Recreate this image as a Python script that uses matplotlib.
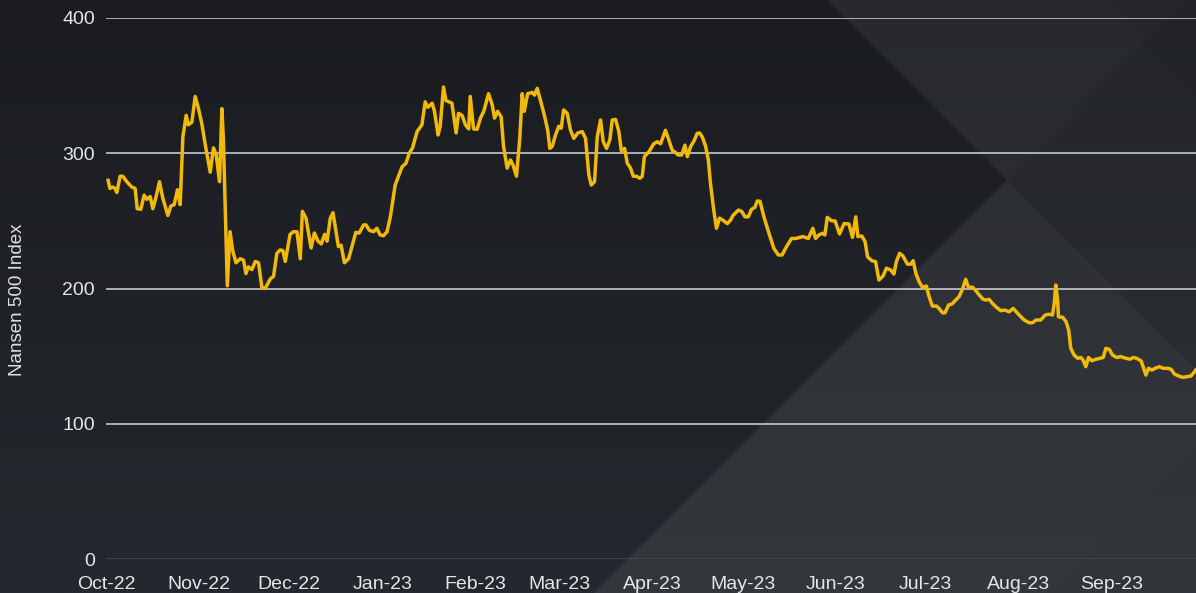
import numpy as np
import pandas as pd
import matplotlib
matplotlib.use("Agg")
from matplotlib import pyplot as plt
from matplotlib.patches import Polygon

plt.rcParams["font.family"] = ["Liberation Sans", "DejaVu Sans"]

# days after 2022-10-01 and index values
days = [
    0.7, 1.3, 2.2, 3.0, 3.6, 4.7, 5.6, 6.9, 8.6, 9.7, 10.4, 11.6, 12.7, 13.6,
    14.7, 15.6, 16.7, 17.8, 18.9, 20.6, 21.6, 22.7, 23.8, 24.7, 25.6, 26.7,
    27.4, 28.6, 29.7, 30.8, 31.9, 33.0, 34.7, 35.8, 36.7, 37.8, 38.6, 39.1,
    40.4, 41.3, 42.2, 43.3, 44.7, 45.8, 46.6, 47.4, 48.6, 49.7, 50.8, 51.9,
    53.0, 54.7, 55.8, 56.9, 58.0, 58.9, 59.7, 61.3, 62.4, 63.6, 64.7, 65.4,
    66.6, 68.3, 69.4, 70.6, 71.7, 72.8, 73.6, 74.7, 75.6, 77.4, 78.3, 79.4,
    80.8, 83.2, 84.3, 85.8, 86.6, 87.7, 89.1, 90.2, 91.3, 92.4, 93.6, 94.7,
    96.3, 97.4, 98.6, 99.9, 101.0, 102.1, 103.6, 105.2, 106.3, 107.2, 108.6,
    109.4, 110.6, 111.3, 112.4, 113.2, 115.2, 116.6, 117.4, 118.6, 119.7,
    120.8, 121.3, 122.4, 123.6, 124.7, 125.8, 127.4, 128.6, 129.4, 130.4,
    131.6, 132.4, 133.6, 134.7, 135.6, 136.7, 137.8, 138.6, 139.3, 140.4,
    141.9, 142.7, 143.6, 144.7, 146.0, 147.1, 147.8, 148.6, 149.7, 150.8,
    151.6, 152.4, 153.6, 154.7, 155.8, 157.1, 158.6, 159.7, 160.8, 161.6,
    162.7, 163.6, 164.7, 165.6, 166.7, 167.8, 168.6, 169.7, 170.8, 171.6,
    172.7, 173.6, 174.7, 175.6, 176.7, 177.8, 178.6, 179.3, 180.8, 182.4,
    183.6, 184.7, 186.3, 187.4, 188.6, 189.4, 190.6, 191.7, 192.8, 193.6,
    194.7, 195.8, 196.9, 197.7, 198.6, 199.7, 200.6, 201.3, 202.4, 203.3,
    204.3, 205.4, 206.9, 208.0, 208.8, 210.6, 211.7, 212.8, 213.9, 215.0,
    216.1, 216.9, 217.8, 219.1, 220.8, 222.4, 223.9, 225.2, 226.3, 228.3,
    229.7, 231.0, 232.1, 233.9, 235.4, 236.3, 237.4, 238.6, 239.4, 240.2,
    241.7, 242.8, 244.3, 245.8, 247.4, 248.6, 249.7, 250.4, 251.7, 252.8,
    253.6, 255.0, 256.3, 257.4, 258.8, 259.9, 261.3, 262.4, 263.2, 264.3,
    265.4, 266.9, 268.0, 268.8, 269.7, 270.8, 271.9, 273.2, 274.1, 275.2,
    276.6, 277.4, 278.6, 279.4, 280.6, 281.7, 283.0, 284.1, 285.2, 286.3,
    287.2, 288.6, 289.7, 290.8, 292.1, 293.0, 294.1, 295.2, 296.6, 298.0,
    299.4, 300.8, 302.1, 304.1, 305.8, 307.4, 308.6, 309.7, 311.3, 312.8,
    314.1, 315.2, 315.8, 316.3, 316.9, 317.2, 318.6, 319.7, 320.6, 321.3,
    322.4, 323.6, 324.7, 325.4, 326.3, 327.2, 328.3, 329.7, 331.0, 332.1,
    333.0, 334.1, 335.2, 336.6, 338.0, 339.7, 341.0, 342.1, 343.2, 344.7,
    345.4, 346.3, 347.2, 348.3, 349.4, 350.8, 352.1, 353.6, 354.7, 355.8,
    357.2, 358.6, 359.9, 361.3, 362.1, 362.9,
]
index_values = [
    280, 274, 275, 274, 271, 283, 283, 279, 275, 274, 259, 258.6, 269, 266,
    268, 259, 268, 279, 267, 254, 261, 262, 273, 262, 312, 328,
    321, 323, 342, 333, 322, 307, 286, 304, 299, 279, 333, 310,
    202, 242, 228, 219, 222, 221, 211, 216, 214, 220, 219, 201,
    200, 207, 209, 226, 228.5, 228, 220, 240, 242, 242, 222, 257,
    252, 230, 241, 235, 233, 240, 235, 252, 256, 231, 232, 219,
    222, 241.5, 241, 247, 247, 243, 242, 244.5, 239.6, 239, 242, 253,
    276.5, 283, 290, 292.6, 300, 304, 316, 321, 338, 334, 337,
    331, 313.5, 320, 349, 339, 337, 315, 329.5, 328, 321,
    318, 342, 318, 317.7, 326, 331, 344, 336, 326, 331,
    327, 305, 289, 295, 291, 283, 311, 344, 331, 344,
    345, 343, 348, 339, 328, 317, 303.6, 305, 313.5, 320,
    318.5, 332, 329.5, 317, 311, 315, 316, 311, 284, 276.5,
    279, 312, 324.6, 308.5, 303.6, 310, 324.6, 325, 316, 302,
    303.6, 292.6, 289, 283, 283, 281.5, 283, 297.5, 301, 307,
    308.5, 307, 317, 310, 302, 301, 298.7, 298.7, 306, 297.5,
    305, 309, 314.7, 315, 312, 305, 295, 277.8, 258, 244.5,
    252, 250.6, 248, 250.6, 254, 258, 257, 253, 253, 258.6,
    260, 264.7, 264.5, 253, 240.8, 229.7, 224.8, 224.8, 229.7, 237,
    237, 237.8, 238.4, 237, 244.5, 237, 239.6, 240.8, 239.6, 252.6,
    250, 250, 240.3, 248, 247.7, 237.8, 253, 238.4, 238.8, 234.6,
    223.5, 220.6, 219.8, 206.3, 209.2, 215, 213.7, 210.7, 219.8, 226,
    224, 218, 218, 220.6, 211.2, 205, 200.9, 201.8, 194, 187,
    187, 185.3, 182, 182, 187.8, 188.5, 191.5, 194, 199.4, 206.8,
    200.9, 200.9, 198.4, 195.2, 192, 191.5, 192, 189, 186, 183.6,
    184, 182.8, 185.3, 180.4, 176.7, 174.7, 174.7, 176.7, 176.7, 180.4,
    181, 180.4, 189, 202.6, 191.5, 179, 178.7, 175.5, 169.3, 155.8,
    150.8, 148.4, 149, 147, 142.2, 149, 146.6, 147.7, 148.4, 149,
    155.8, 155, 150.8, 149, 149.6, 148.4, 147.7, 149, 148.4, 146.6,
    142.2, 136, 141, 139.7, 141, 142.2, 141, 141, 140.3, 136.8,
    135.3, 134.3, 134.8, 135.3, 137.3, 139.7,
]
month_labels = ["Oct-22", "Nov-22", "Dec-22", "Jan-23", "Feb-23", "Mar-23",
                "Apr-23", "May-23", "Jun-23", "Jul-23", "Aug-23", "Sep-23"]
y_ticks = [0, 100, 200, 300, 400]

start = pd.Timestamp("2022-10-01")
dates = start + pd.to_timedelta(np.array(days), unit="D")
month_starts = pd.date_range("2022-10-01", periods=12, freq="MS")

W, H = 1196, 593
fig = plt.figure(figsize=(W / 100, H / 100), dpi=100)

# background: dark gradient with soft diagonal facets (pixel coordinates)
bg = fig.add_axes([0, 0, 1, 1], zorder=0)
bg.set_xlim(0, W)
bg.set_ylim(H, 0)
bg.axis("off")
grad = np.linspace(0, 1, 256).reshape(-1, 1)
base = np.array([0x1a, 0x1c, 0x20]) / 255
bot = np.array([0x25, 0x28, 0x2e]) / 255
img = base + (bot - base) * grad[..., None]
img = np.repeat(img, 2, axis=1)
bg.imshow(img, extent=[0, W, H, 0], aspect="auto", zorder=0)

facets = [
    ([(827, 0), (1187, 0), (1007, 180)], 0.06),
    ([(1007, 180), (594, 593), (1196, 593), (1196, 369)], 0.07),
    ([(1007, 180), (1187, 0), (1196, 0), (1196, 369)], 0.045),
    ([(1050, 593), (1196, 593), (1196, 447)], -0.03),
    ([(1100, 0), (1196, 0), (1196, 96)], -0.03),
]
for pts, a in facets:
    col = "white" if a > 0 else "black"
    bg.add_patch(Polygon(pts, closed=True, facecolor=col, alpha=abs(a),
                         edgecolor="none", zorder=1))

ax = fig.add_axes([106 / W, 34 / H, 1 - 106 / W, 541 / H], zorder=1)
ax.patch.set_alpha(0)

for v in y_ticks[1:]:
    ax.axhline(v, color="#d6d6d6", lw=1.1, zorder=1)
ax.axhline(0, color="#45484e", lw=1.2, zorder=1)

ax.plot(dates, index_values, color="#F0B90B", lw=2.5, zorder=3)

ax.set_xlim(start, start + pd.Timedelta(days=363))
ax.set_ylim(0, 400)
ax.set_yticks(y_ticks)
ax.set_yticklabels([str(v) for v in y_ticks])
ax.set_xticks(month_starts)
ax.set_xticklabels(month_labels)
ax.tick_params(axis="both", length=0, colors="#e6e6e6", labelsize=14)
ax.tick_params(axis="y", pad=8)
ax.tick_params(axis="x", pad=12)
for s in ax.spines.values():
    s.set_visible(False)

fig.text(18 / W, 1 - 300 / H, "Nansen 500 Index", rotation=90,
         ha="center", va="center", color="#e0e0e0", fontsize=13.5)

fig.savefig("out.png", dpi=100)
